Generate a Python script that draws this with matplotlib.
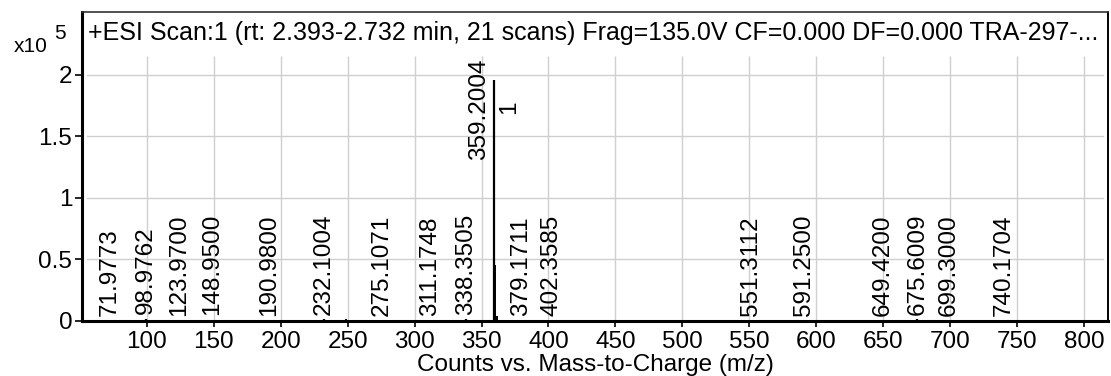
import numpy as np
import matplotlib.pyplot as plt
from matplotlib.ticker import FuncFormatter

plt.rcParams['font.family'] = ['Liberation Sans', 'DejaVu Sans']

# labelled centroid peaks (m/z, counts)
peak_mz = [71.9773, 98.9762, 123.9700, 148.9500, 190.9800, 232.1004, 275.1071,
           311.1748, 338.3505, 359.2004, 379.1711, 402.3585, 551.3112, 591.2500,
           649.4200, 675.6009, 699.3000, 740.1704]
peak_counts = [300, 1800, 300, 1200, 300, 1300, 300, 900, 1500, 196000, 900, 300,
               300, 300, 300, 1500, 300, 300]

# unlabelled minor peaks (isotopes / noise)
minor_mz = [245.0, 248.5, 335.5, 360.2, 361.2, 380.5, 672.0]
minor_counts = [800, 1500, 800, 45500, 4000, 600, 600]

compound_mz = 359.2004
compound_label = '1'

title = ('+ESI Scan:1 (rt: 2.393-2.732 min, 21 scans) Frag=135.0V CF=0.000 '
         'DF=0.000 TRA-297-...')

fig = plt.figure(figsize=(11.11, 3.76), dpi=100)
ax = fig.add_axes([0.0738, 0.1463, 0.9235, 0.8217])

xmin, xmax = 51.5, 818
ymax = 2.51e5
ax.set_xlim(xmin, xmax)
ax.set_ylim(0, ymax)

xt = np.arange(100, 801, 50)
yt = np.arange(0, 2.01e5, 0.5e5)

# grid: vertical lines stop below the scan header
ax.vlines(xt, 0, 2.15e5, color='#cfcfcf', lw=1.0, zorder=0)
for y in yt[1:]:
    ax.axhline(y, xmin=0.005, xmax=0.995, color='#cfcfcf', lw=1.0, zorder=0)

ax.vlines(minor_mz, 0, minor_counts, color='black', lw=1.4)
ax.vlines(peak_mz, 0, peak_counts, color='black', lw=1.6)

fs = 17.5
for mz, c in zip(peak_mz, peak_counts):
    if mz == compound_mz:
        ax.text(mz - 2.5, c + 0.17e5, f'{mz:.4f}', rotation=90, ha='right',
                va='top', fontsize=fs)
        ax.text(mz + 3.5, c - 0.22e5, compound_label, rotation=90, ha='left',
                va='center', fontsize=fs)
    else:
        ax.text(mz, c + 0.035e5, f'{mz:.4f}', rotation=90, ha='center',
                va='bottom', fontsize=fs)

ax.text(0.006, 0.97, title, transform=ax.transAxes, ha='left', va='top',
        fontsize=18)

ax.set_xticks(xt)
ax.set_yticks(yt)
ax.yaxis.set_major_formatter(FuncFormatter(lambda v, p: f'{v / 1e5:g}'))
ax.tick_params(direction='out', length=5, width=1.2, labelsize=fs, pad=2)
ax.tick_params(axis='x', length=4, pad=3)

ax.set_xlabel('Counts vs. Mass-to-Charge (m/z)', fontsize=fs)
ax.xaxis.set_label_coords(0.5, -0.108)

ax.spines['left'].set_linewidth(2.2)
ax.spines['bottom'].set_linewidth(2.2)
ax.spines['top'].set_linewidth(1.2)
ax.spines['right'].set_linewidth(1.4)
ax.spines['top'].set_color('#333333')

# intensity scale factor
fig.text(0.012, 0.876, 'x10', fontsize=15, ha='left', va='center')
fig.text(0.049, 0.91, '5', fontsize=15, ha='left', va='center')

plt.savefig('out.png', dpi=100)
plt.close()
